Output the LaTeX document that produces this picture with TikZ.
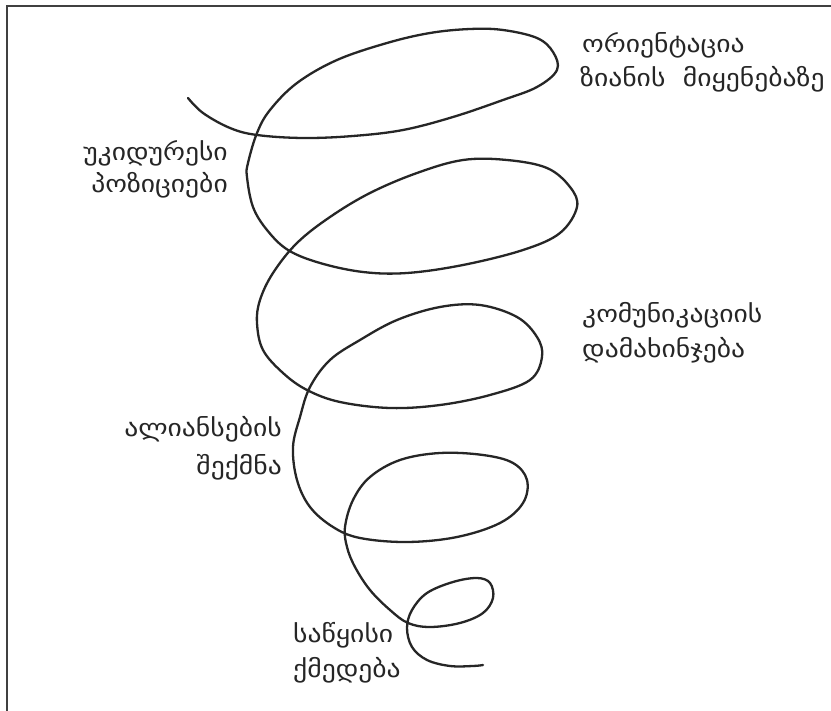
\documentclass[tikz,border=0pt]{standalone}
\usepackage{fontspec}
\newfontfamily\geofont[FakeStretch=1.15]{DejaVu Sans}
\begin{document}
\begin{tikzpicture}[x=1pt,y=-1pt,
  lbl/.style={font=\geofont\fontsize{24}{30}\selectfont, inner sep=0pt, text=black!85},
  frameline/.style={draw=black!75, line width=2pt},
  spiral/.style={draw=black!85, line width=2.3pt, line cap=round, line join=round}]
\useasboundingbox (0,0) rectangle (831,711);
\fill[white] (0,0) rectangle (831,711);
\draw[frameline] (6.5,711) -- (6.5,6.5) -- (831,6.5);
\draw[spiral] plot[smooth, tension=0.6] coordinates {
(188,98) (203,113) (230,128) (257,135) (303,138) (353,136) (403,130) (453,117) (503,100) (537,87) (557,70) (553,52) (537,38) (503,30) (470,29) (430,33) (387,43) (337,60) (297,83) (270,110) (257,133) (248,163) (247,177) (253,207) (267,230) (288,250) (320,263) (363,272) (407,273) (463,265) (523,250) (560,233) (577,207) (570,187) (547,168) (507,160) (463,160) (417,173) (370,193) (330,217) (297,243) (273,273) (260,300) (257,323) (263,350) (283,373) (307,390) (340,402) (390,408) (440,405) (490,395) (530,380) (542,357) (537,337) (517,317) (480,305) (440,307) (397,320) (360,340) (330,360) (310,387) (300,417) (293,447) (297,480) (310,507) (333,527) (360,538) (407,542) (457,537) (500,523) (523,503) (527,480) (513,463) (483,455) (440,453) (400,460) (370,477) (353,500) (345,527) (347,547) (355,567) (370,590) (390,610) (408,623) (430,627) (460,623) (483,613) (493,598) (490,583) (477,578) (453,582) (427,593) (412,610) (407,628) (412,647) (427,660) (450,666) (473,666) (483,665)};
\node[lbl, anchor=west] (t1) at (582,45) {ორიენტაცია};
\node[lbl, anchor=west] (t2) at (580,79) {ზიანის\ \ მიყენებაზე};
\node[lbl, anchor=east] (u1) at (228,153) {უკიდურესი};
\node[lbl, anchor=east] (u2) at (228,185) {პოზიციები};
\node[lbl, anchor=west] (k1) at (582,315) {კომუნიკაციის};
\node[lbl, anchor=west] (k2) at (582,350) {დამახინჯება};
\node[lbl, anchor=east] (a1) at (282,429) {ალიანსების};
\node[lbl, anchor=east] (a2) at (282,467) {შექმნა};
\node[lbl, anchor=west] (s1) at (293,635) {საწყისი};
\node[lbl, anchor=west] (s2) at (293,670) {ქმედება};
\end{tikzpicture}
\end{document}
